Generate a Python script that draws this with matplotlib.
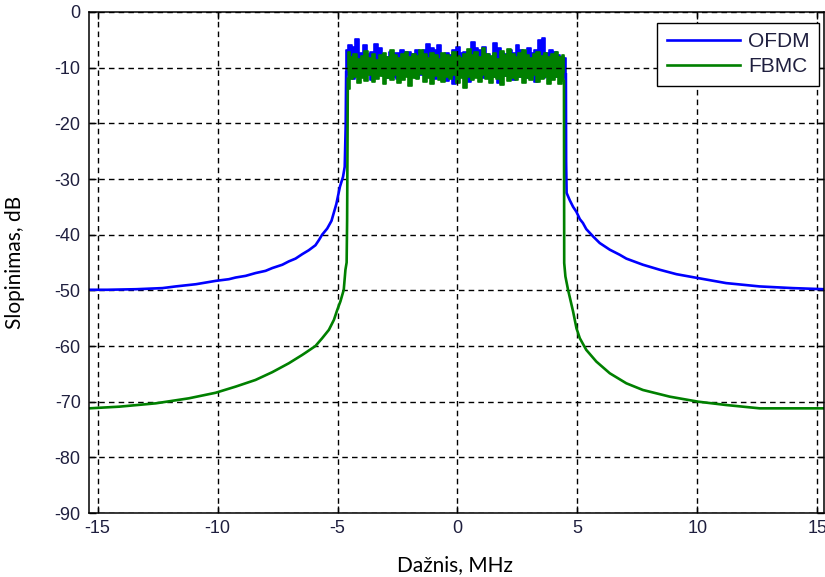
import numpy as np
import matplotlib
matplotlib.use('Agg')
import matplotlib.pyplot as plt

# skirts (MHz, dB)
ofdm_left_x = [-15.36, -14.6, -13.4, -12.3, -11.75, -10.9, -10.08, -9.53, -9.25, -8.83, -8.42, -8.0,
               -7.72, -7.3, -7.03, -6.75, -6.47, -6.2, -5.92, -5.78, -5.64, -5.43, -5.25, -5.05,
               -4.9, -4.77, -4.70, -4.66, -4.64]
ofdm_left_y = [-49.9, -49.9, -49.8, -49.6, -49.3, -48.9, -48.3, -48.0, -47.7, -47.4, -46.9, -46.5,
               -46.0, -45.4, -44.8, -44.3, -43.5, -42.8, -41.9, -41.0, -40.0, -38.9, -37.5, -34.5,
               -31.4, -29.6, -27.8, -20.5, -10.8]
ofdm_right_x = [4.52, 4.53, 4.55, 4.68, 4.82, 4.96, 5.1, 5.23, 5.37, 5.65, 5.93, 6.35, 6.76, 7.04,
                7.73, 8.43, 9.13, 10.03, 11.2, 12.6, 13.98, 15.3]
ofdm_right_y = [-11.2, -26.9, -32.5, -33.8, -35.0, -35.9, -37.2, -37.9, -39.0, -40.3, -41.5, -42.7,
                -43.6, -44.3, -45.4, -46.3, -47.1, -47.8, -48.7, -49.3, -49.6, -49.8]

fbmc_left_x = [-15.36, -14.1, -12.58, -11.2, -10.08, -9.25, -8.42, -7.72, -7.03, -6.47, -6.33,
               -5.92, -5.64, -5.36, -5.15, -5.01, -4.88, -4.74, -4.67, -4.62, -4.6, -4.57]
fbmc_left_y = [-71.2, -70.9, -70.3, -69.4, -68.4, -67.3, -66.1, -64.7, -63.1, -61.6, -61.2,
               -60.0, -58.6, -57.1, -55.3, -53.5, -52.0, -49.9, -46.3, -45.0, -37.4, -12.0]
fbmc_right_x = [4.44, 4.45, 4.5, 4.61, 4.75, 4.82, 4.96, 5.1, 5.37, 5.79, 6.35, 7.04, 7.73, 8.85,
                10.03, 11.2, 12.6, 15.3]
fbmc_right_y = [-12.4, -45.1, -47.5, -49.9, -52.5, -53.8, -56.8, -58.6, -60.7, -62.8, -64.9, -66.7,
                -67.9, -69.1, -70.0, -70.6, -71.2, -71.2]

# noisy passband, upper and lower swings read left to right
ofdm_band_hi = [-6.8, -6.0, -6.3, -4.9, -7.4, -6.0, -7.6, -7.1, -5.8, -6.5, -7.6, -8.0, -7.1, -7.4,
                -7.4, -6.8, -7.1, -7.2, -7.6, -6.8, -7.4, -6.9, -5.8, -6.5, -6.8, -6.0, -7.6, -7.4,
                -7.8, -6.8, -6.2, -7.4, -7.1, -7.6, -5.3, -6.5, -6.8, -6.3, -7.5, -8.0, -5.5, -6.5,
                -7.4, -7.6, -6.8, -7.4, -6.0, -6.8, -7.2, -6.5, -7.4, -6.8, -5.0, -4.7, -7.4, -6.8,
                -7.2, -7.8, -8.0, -8.3]
ofdm_band_lo = [-10.8, -11.4, -12.0, -11.2, -10.9, -11.6, -11.1, -12.2, -11.3, -10.7, -11.5, -11.9,
                -11.0, -11.7, -12.1, -11.3, -10.8, -11.6, -11.2, -11.9, -11.4, -10.9, -11.7, -11.1,
                -12.0, -11.3, -11.6, -12.4, -11.2, -12.9, -11.5, -11.0, -11.8, -12.5, -11.3, -11.7,
                -11.1, -11.9, -11.4, -11.2, -11.6, -12.8, -11.0, -11.5, -11.8, -12.2, -11.3, -11.7,
                -11.1, -11.9, -11.4, -12.6, -11.2, -11.8, -11.5, -11.0, -11.7, -11.3, -11.9, -11.2]
fbmc_band_hi = [-7.2, -8.0, -7.6, -8.4, -7.9, -7.0, -8.2, -7.5, -8.6, -7.8, -7.4, -8.1, -6.9, -7.7,
                -8.3, -7.6, -7.1, -8.0, -7.5, -7.9, -6.8, -7.6, -8.2, -7.3, -7.8, -8.5, -7.4, -7.7,
                -8.0, -7.2, -7.9, -8.3, -7.5, -6.7, -7.8, -7.2, -8.1, -6.4, -7.6, -7.9, -7.3, -8.4,
                -7.0, -7.7, -6.6, -7.5, -8.0, -7.4, -6.9, -7.8, -8.2, -7.5, -7.1, -7.9, -7.4, -8.0,
                -7.6, -7.2, -8.1, -7.8]
fbmc_band_lo = [-13.8, -12.1, -11.6, -12.8, -11.9, -12.4, -11.3, -12.6, -12.0, -11.5, -13.0, -11.8,
                -12.3, -11.4, -12.7, -12.2, -11.6, -13.3, -11.9, -12.1, -11.2, -12.5, -11.8, -12.9,
                -11.5, -12.2, -12.6, -11.7, -12.0, -11.4, -12.8, -11.9, -13.6, -11.6, -12.3, -11.8,
                -12.5, -11.3, -12.1, -12.7, -11.7, -12.0, -13.1, -11.5, -12.4, -11.9, -12.2, -11.6,
                -12.8, -11.8, -12.3, -11.4, -12.6, -12.0, -11.7, -12.9, -12.2, -11.6, -13.0, -12.4]

xticks = [-15, -10, -5, 0, 5, 10, 15]
yticks = [0, -10, -20, -30, -40, -50, -60, -70, -80, -90]

plt.rcParams['font.family'] = ['Liberation Sans', 'DejaVu Sans']
plt.rcParams['axes.unicode_minus'] = False
txt = '#1f1f3f'

fig = plt.figure(figsize=(8.25, 5.77), dpi=100)
ax = fig.add_axes([89 / 825, 1 - 513 / 577, 735 / 825, 501 / 577])


def draw(left_x, left_y, band_hi, band_lo, right_x, right_y, color, label):
    band_x = np.linspace(left_x[-1], right_x[0], len(band_hi))
    ax.fill_between(band_x, band_lo, band_hi, step='mid', color=color, lw=1.2)
    ax.plot(left_x, left_y, color=color, lw=1.9, label=label)
    ax.plot(right_x, right_y, color=color, lw=1.9)


draw(ofdm_left_x, ofdm_left_y, ofdm_band_hi, ofdm_band_lo, ofdm_right_x, ofdm_right_y,
     '#0000ff', 'OFDM')
draw(fbmc_left_x, fbmc_left_y, fbmc_band_hi, fbmc_band_lo, fbmc_right_x, fbmc_right_y,
     '#008000', 'FBMC')

ax.set_xlim(-15.36, 15.28)
ax.set_ylim(-90, 0)
ax.set_xticks(xticks)
ax.set_yticks(yticks)
ax.grid(True, color='black', linestyle=(0, (4, 3)), linewidth=1.0)
ax.tick_params(direction='in', top=True, right=True, length=5, width=1,
               labelsize=13, labelcolor=txt)
ax.tick_params(axis='y', pad=6)
ax.tick_params(axis='x', pad=5)
for s in ax.spines.values():
    s.set_linewidth(1.1)

leg = ax.legend(loc='upper right', bbox_to_anchor=(0.9932, 0.9786), borderaxespad=0,
                fancybox=False, framealpha=1, edgecolor='black', fontsize=15,
                handlelength=3.5, handletextpad=0.4, labelspacing=0.3, borderpad=0.45)
leg.get_frame().set_linewidth(1.0)
for t in leg.get_texts():
    t.set_color(txt)

fig.text(15 / 825, 1 - 262 / 577, 'Slopinimas, dB', rotation=90, ha='center', va='center',
         fontsize=15, family=['Lato', 'DejaVu Sans'])
fig.text(455 / 825, 1 - 565 / 577, 'Dažnis, MHz', ha='center', va='center',
         fontsize=15, family=['Lato', 'DejaVu Sans'])

fig.savefig('out.png', dpi=100)
